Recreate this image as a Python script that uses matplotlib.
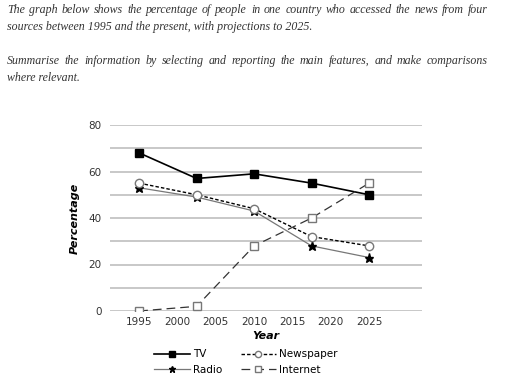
import matplotlib.pyplot as plt
import numpy as np

years = [1995, 2002.5, 2010, 2017.5, 2025]
tv = [68, 57, 59, 55, 50]
newspaper = [55, 50, 44, 32, 28]
radio = [53, 49, 43, 28, 23]
internet = [0, 2, 28, 40, 55]

x_ticks = [1995, 2000, 2005, 2010, 2015, 2020, 2025]
y_ticks = [0, 20, 40, 60, 80]

para1 = ["The graph below shows the percentage of people in one country who accessed the news from four",
         "sources between 1995 and the present, with projections to 2025."]
para2 = ["Summarise the information by selecting and reporting the main features, and make comparisons",
         "where relevant."]


def justified(fig, lines, y0, x0=7, x1=488, line_h=17):
    r = fig.canvas.get_renderer()
    props = dict(family="Liberation Serif", style="italic", color="#333333")

    def w(s, size):
        t = fig.text(0, 0, s, size=size, **props)
        bb = t.get_window_extent(renderer=r)
        t.remove()
        return bb.width

    # shrink the font until the longest line fits the column
    size = 9.5
    while w(lines[0], size) > (x1 - x0) * 0.97 and size > 5:
        size -= 0.1
    W, H = fig.bbox.width, fig.bbox.height
    for i, ln in enumerate(lines):
        y = 1 - (y0 + i * line_h) / H
        if i == len(lines) - 1:
            # last line of a paragraph is not stretched
            fig.text(x0 / W, y, ln, va="center", ha="left", size=size, **props)
            continue
        words = ln.split()
        ws = [w(c, size) for c in words]
        gap = (x1 - x0 - sum(ws)) / (len(words) - 1)
        x = x0
        for c, cw in zip(words, ws):
            fig.text(x / W, y, c, va="center", ha="left", size=size, **props)
            x += cw + gap


fig = plt.figure(figsize=(5.12, 3.92), dpi=100)
fig.patch.set_facecolor("white")

justified(fig, para1, 10)
justified(fig, para2, 61)

ax = fig.add_axes([110 / 512, 1 - 311 / 392, 312 / 512, 186 / 392])
for g in range(0, 81, 10):
    ax.axhline(g, color="#c4c4c4", lw=1.3, zorder=0)

ax.plot(years, tv, color="black", lw=1.2, marker="s", ms=5.5, mfc="black", mec="black", label="TV", zorder=3)
ax.plot(years, radio, color="#777777", lw=0.9, marker="*", ms=6.5, mfc="black", mec="black", label="Radio", zorder=3)
ax.plot(years, newspaper, color="black", lw=1.0, ls=(0, (2.5, 1.5)), marker="o", ms=6, mfc="white",
        mec="#777777", label="Newspaper", zorder=4)
ax.plot(years, internet, color="#333333", lw=0.9, ls=(0, (7, 4)), marker="s", ms=6, mfc="white",
        mec="#777777", label="Internet", zorder=4)

ax.set_xlim(1991.2, 2031.9)
ax.set_ylim(0, 80)
ax.set_xticks(x_ticks)
ax.set_yticks(y_ticks)
ax.tick_params(length=0, labelsize=7.5, labelcolor="#333333", pad=4)
ax.tick_params(axis="y", pad=6)
for s in ax.spines.values():
    s.set_visible(False)

ax.set_xlabel("Year", fontsize=8, fontweight="bold", style="italic", labelpad=3)
ax.set_ylabel("Percentage", fontsize=8, fontweight="bold", style="italic", labelpad=6)

fig.legend(ncol=2, frameon=False, loc="center", bbox_to_anchor=(246 / 512, 1 - 362 / 392), fontsize=7.5,
           handlelength=3.4, columnspacing=1.8, labelspacing=0.5, handletextpad=0.3, markerscale=0.75)

plt.savefig("out.png", dpi=100)
